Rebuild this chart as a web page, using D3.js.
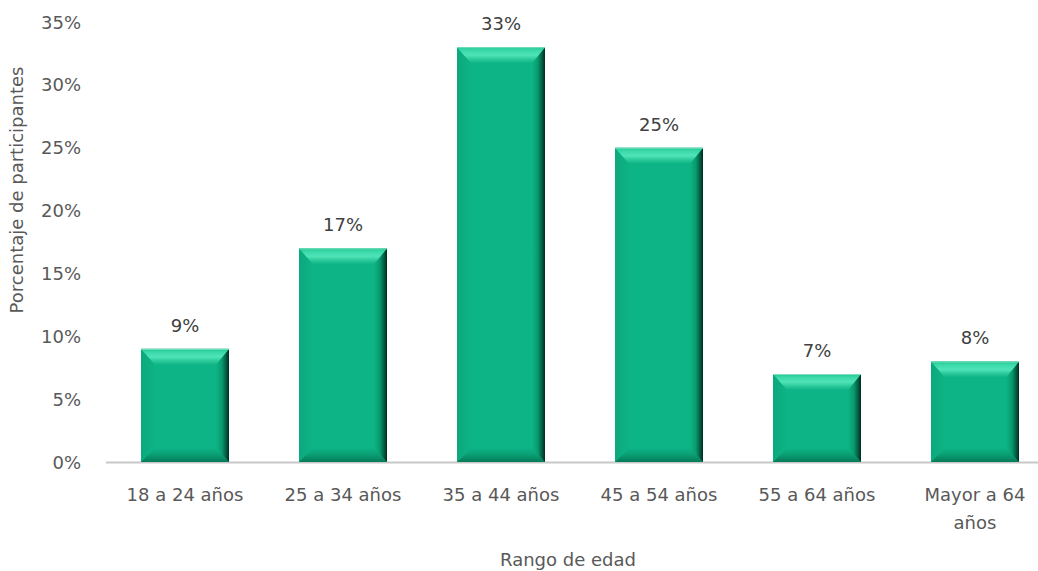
<!DOCTYPE html>
<html><head><meta charset="utf-8">
<script src="https://cdn.jsdelivr.net/npm/d3@7/dist/d3.min.js"></script>
<style>
html,body{margin:0;padding:0;background:#fff;}
svg{display:block;font-family:"DejaVu Sans",sans-serif;}
</style></head>
<body><svg id="c" width="1038" height="571"></svg>
<script>
const categories = ["18 a 24 años","25 a 34 años","35 a 44 años","45 a 54 años","55 a 64 años","Mayor a 64 años"];
const values = [9,17,33,25,7,8];
const yTicks = [0,5,10,15,20,25,30,35];
const yTitle = "Porcentaje de participantes";
const xTitle = "Rango de edad";

const svg = d3.select("#c");
const pLeft = 106, pRight = 1054, pTop = 22, pBottom = 462;
const x = d3.scaleBand().domain(categories).range([pLeft,pRight]).paddingInner(0.443).paddingOuter(0.2215);
const y = d3.scaleLinear().domain([0,35]).range([pBottom,pTop]);

const defs = svg.append("defs");
function lg(id, x1,y1,x2,y2, stops){
  const g = defs.append("linearGradient").attr("id",id).attr("x1",x1).attr("y1",y1).attr("x2",x2).attr("y2",y2);
  stops.forEach(s=>g.append("stop").attr("offset",s[0]).attr("stop-color",s[1]));
}
const face = "#0db486";
lg("gTop",0,0,0,1,[[0,"#1fc592"],[0.2,"#3ad8a8"],[0.5,"#4fe4b8"],[0.75,"#2cca9a"],[1,face]]);
lg("gRight",0,0,1,0,[[0,face],[0.45,"#089a6e"],[0.8,"#03573f"],[1,"#012a1e"]]);
lg("gBot",0,0,0,1,[[0,face],[0.5,"#0a9d72"],[1,"#067a58"]]);
lg("gLeft",0,0,1,0,[[0,"#0ca87c"],[1,face]]);

// axis line
svg.append("line").attr("x1",pLeft).attr("x2",pRight).attr("y1",pBottom+0.5).attr("y2",pBottom+0.5)
  .attr("stroke","#c8c8c8").attr("stroke-width",2);

const bw = x.bandwidth();
const bt = 16, br = 13, bb = 14, bl = 14;
const bars = svg.append("g").selectAll("g").data(values).join("g");
bars.each(function(v,i){
  const g = d3.select(this);
  const x0 = x(categories[i]), x1 = x0 + bw, y0 = y(v), y1 = y(0);
  g.append("rect").attr("x",x0).attr("y",y0).attr("width",bw).attr("height",y1-y0).attr("fill",face);
  const poly = (pts, fill) => g.append("polygon").attr("points", pts.map(p=>p.join(",")).join(" ")).attr("fill",fill);
  poly([[x0,y0],[x0+bl,y0+bt],[x0+bl,y1-bb],[x0,y1]],"url(#gLeft)");
  poly([[x0,y1],[x1,y1],[x1-br,y1-bb],[x0+bl,y1-bb]],"url(#gBot)");
  poly([[x1,y0],[x1,y1],[x1-br,y1-bb],[x1-br,y0+bt]],"url(#gRight)");
  poly([[x0,y0],[x1,y0],[x1-br,y0+bt],[x0+bl,y0+bt]],"url(#gTop)");
  g.append("rect").attr("x",x0).attr("y",y0).attr("width",bw).attr("height",1).attr("fill","#9fe8d0").attr("opacity",0.7);
});

// data labels
svg.append("g").selectAll("text").data(values).join("text")
  .attr("x",(d,i)=>x(categories[i])+bw/2).attr("y",d=>y(d)-17)
  .attr("text-anchor","middle").attr("fill","#404040").attr("font-size",18)
  .text(d=>d+"%");

// y ticks
svg.append("g").selectAll("text").data(yTicks).join("text")
  .attr("x",81).attr("y",d=>y(d)+6.5).attr("text-anchor","end")
  .attr("fill","#595959").attr("font-size",18).text(d=>d+"%");

// x labels
const xl = svg.append("g").selectAll("text").data(categories).join("text")
  .attr("x",d=>x(d)+bw/2).attr("y",501).attr("text-anchor","middle")
  .attr("fill","#595959").attr("font-size",18);
xl.each(function(d){
  const t = d3.select(this);
  if (d === "Mayor a 64 años") {
    t.append("tspan").attr("x",x(d)+bw/2).attr("dy",0).text("Mayor a 64");
    t.append("tspan").attr("x",x(d)+bw/2).attr("dy",28).text("años");
  } else t.text(d);
});

svg.append("text").attr("transform","translate(23,190) rotate(-90)").attr("text-anchor","middle")
  .attr("fill","#595959").attr("font-size",18).text(yTitle);
svg.append("text").attr("x",568).attr("y",566).attr("text-anchor","middle")
  .attr("fill","#595959").attr("font-size",18).text(xTitle);
</script></body></html>
